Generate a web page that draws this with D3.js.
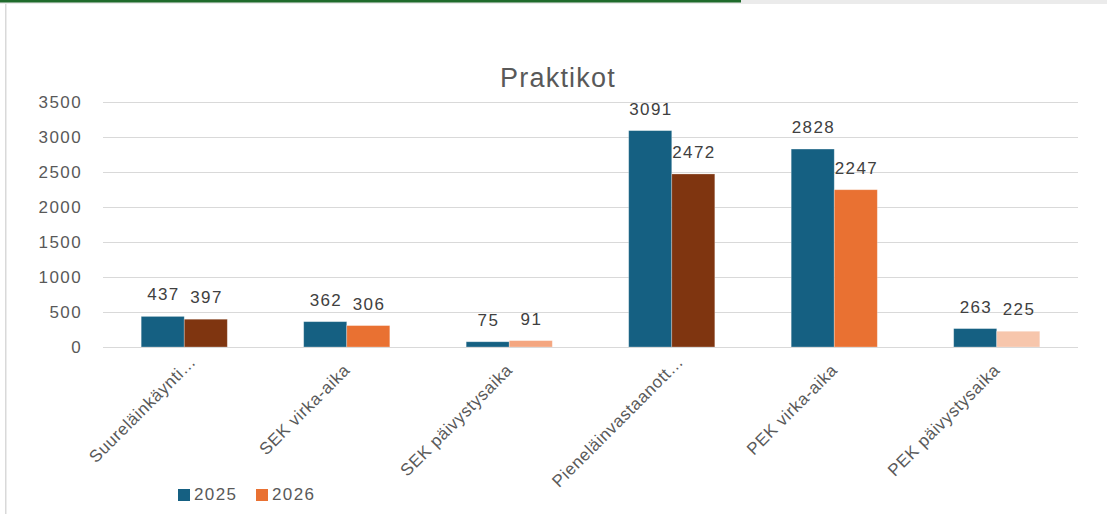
<!DOCTYPE html>
<html><head><meta charset="utf-8">
<script src="https://cdn.jsdelivr.net/npm/d3@7"></script>
<style>html,body{margin:0;padding:0;background:#fff;overflow:hidden}</style>
</head><body>
<svg id="c" width="1107" height="514"></svg>
<script>
const categories = ["Suureläinkäynti…","SEK virka-aika","SEK päivystysaika","Pieneläinvastaanott…","PEK virka-aika","PEK päivystysaika"];
const series2025 = [437,362,75,3091,2828,263];
const series2026 = [397,306,91,2472,2247,225];
const yTicks = [0,500,1000,1500,2000,2500,3000,3500];
const seriesNames = ["2025","2026"];
const color2025 = "#156082";
const colors2026 = ["#7f3510","#e97132","#f4a680","#7f3510","#e97132","#f7c6ac"];

(function(){
const svg = d3.select("#c");
const W=1107,H=514;
const FF="Liberation Sans, Arial, sans-serif";
svg.append("rect").attr("x",0).attr("y",0).attr("width",W).attr("height",4).attr("fill","#ebebeb");
svg.append("rect").attr("x",0).attr("y",0).attr("width",741).attr("height",2.5).attr("fill","#1f6b2c");
svg.append("rect").attr("x",5).attr("y",4).attr("width",1.5).attr("height",H).attr("fill","#d9d9d9");

const pL=103,pR=1078,pT=102,pB=347;
const x = d3.scaleBand().domain(categories).range([pL,pR]).paddingInner(0.47).paddingOuter(0.235);
const x1 = d3.scaleBand().domain(seriesNames).range([0,x.bandwidth()]);
const y = d3.scaleLinear().domain([0,3500]).range([pB,pT]);

const yAxis = d3.axisLeft(y).tickValues(yTicks).tickSize(-(pR-pL)).tickPadding(21).tickFormat(d3.format("d"));
const ga = svg.append("g").attr("transform",`translate(${pL},0)`).call(yAxis);
ga.select(".domain").remove();
ga.selectAll(".tick line").attr("stroke","#d9d9d9").attr("stroke-width",1);
ga.selectAll(".tick text").attr("fill","#595959").style("font-family",FF).style("font-size","17px").style("letter-spacing","1.4px");

const data = categories.map((c,i)=>({c,i,v:[series2025[i],series2026[i]]}));
const g = svg.append("g");
data.forEach(d=>{
  seriesNames.forEach((s,k)=>{
    const val=d.v[k];
    const fill = k===0?color2025:colors2026[d.i];
    g.append("rect").attr("x",x(d.c)+x1(s)).attr("y",y(val)).attr("width",x1.bandwidth()).attr("height",y(0)-y(val))
      .attr("fill",fill).attr("stroke","rgba(255,255,255,0.35)").attr("stroke-width",0.8);
    g.append("text").attr("x",x(d.c)+x1(s)+x1.bandwidth()/2+0.7).attr("y",y(val)-16)
      .attr("text-anchor","middle").attr("fill","#404040")
      .style("font-family",FF).style("font-size","17px").style("letter-spacing","1.4px").text(val);
  });
});
svg.append("line").attr("x1",pL).attr("x2",pR).attr("y1",pB+0.5).attr("y2",pB+0.5).attr("stroke","#d9d9d9").attr("stroke-width",1.2);

categories.forEach(c=>{
  const cx = x(c)+x.bandwidth()/2, cy = pB+20;
  svg.append("text").attr("transform",`translate(${cx},${cy}) rotate(-45)`).attr("text-anchor","end")
    .attr("dy","0.35em").attr("dx", c.endsWith("…") ? 12 : 0)
    .attr("fill","#595959").style("font-family",FF).style("font-size","17px").style("letter-spacing","0.6px").text(c);
});

svg.append("text").attr("x",558).attr("y",87).attr("text-anchor","middle").attr("fill","#595959")
  .style("font-family",FF).style("font-size","27px").style("letter-spacing","1.2px").text("Praktikot");

const lg = svg.append("g");
[[178,color2025,"2025"],[256,"#e97132","2026"]].forEach(([lx,col,t])=>{
  lg.append("rect").attr("x",lx).attr("y",489).attr("width",12).attr("height",12).attr("fill",col);
  lg.append("text").attr("x",lx+16).attr("y",500).attr("fill","#595959")
    .style("font-family",FF).style("font-size","17px").style("letter-spacing","1.4px").text(t);
});
})();
</script>
</body></html>
